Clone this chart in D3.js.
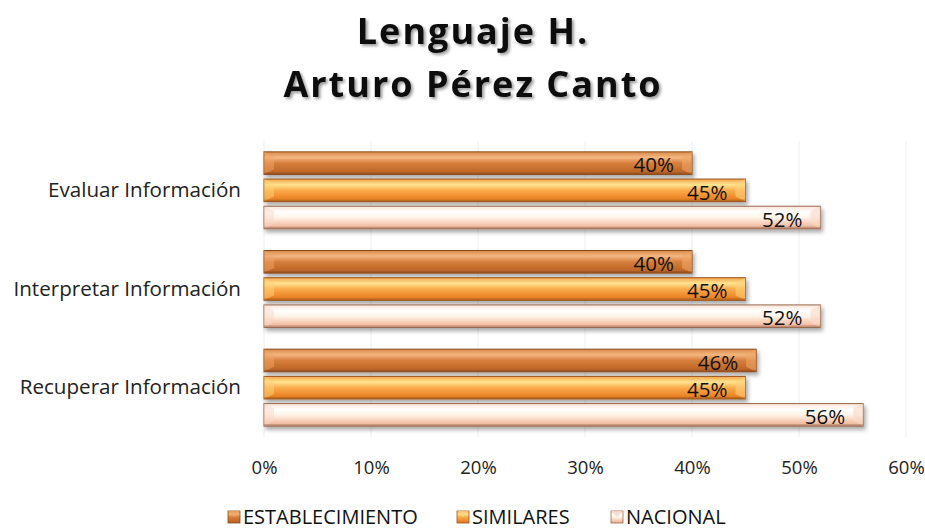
<!DOCTYPE html>
<html>
<head>
<meta charset="utf-8">
<script src="https://cdn.jsdelivr.net/npm/d3@7"></script>
<style>
  body { margin: 0; background: #fff; }
  text { font-family: "Open Sans", sans-serif; }
</style>
</head>
<body>
<div id="chart"></div>
<script>
const categories = ["Evaluar Información", "Interpretar Información", "Recuperar Información"];
const seriesNames = ["ESTABLECIMIENTO", "SIMILARES", "NACIONAL"];
const establecimiento = [0.40, 0.40, 0.46];
const similares = [0.45, 0.45, 0.45];
const nacional = [0.52, 0.52, 0.56];
const xTicks = [0, 0.1, 0.2, 0.3, 0.4, 0.5, 0.6];

const width = 925, height = 529;
const margin = { top: 141, right: 19, bottom: 92, left: 264 };
const font = "'Open Sans', sans-serif";

const svg = d3.select("#chart").append("svg")
  .attr("width", width)
  .attr("height", height);

const defs = svg.append("defs");

// bar styles: gradient stops, outline, bevel colour
const styles = [
  { id: "g0", stops: ["#d88a4a", "#f4b680", "#d67e3c", "#c46c2a", "#b4602a"], stroke: "#8a4a1c", cap: "#f0a666" },
  { id: "g1", stops: ["#f3a24a", "#ffe490", "#f9ac4c", "#ef8a2c", "#de7820"], stroke: "#9a561c", cap: "#ffd27a" },
  { id: "g2", stops: ["#f8e2d4", "#ffffff", "#fff4e8", "#f6c8b0", "#e8ac94"], stroke: "#9a6a50", cap: "#f8d8c8" }
];
styles.forEach(s => {
  const g = defs.append("linearGradient").attr("id", s.id)
    .attr("x1", 0).attr("y1", 0).attr("x2", 0).attr("y2", 1);
  [0, 0.25, 0.5, 0.8, 1].forEach((o, i) => {
    g.append("stop").attr("offset", o).attr("stop-color", s.stops[i]);
  });
});
const shadow = defs.append("filter").attr("id", "shadow")
  .attr("x", "-5%").attr("y", "-20%").attr("width", "115%").attr("height", "160%");
shadow.append("feDropShadow").attr("dx", 2).attr("dy", 3).attr("stdDeviation", 2)
  .attr("flood-color", "#000").attr("flood-opacity", 0.35);
const tshadow = defs.append("filter").attr("id", "tshadow");
tshadow.append("feDropShadow").attr("dx", 2).attr("dy", 2).attr("stdDeviation", 1.5)
  .attr("flood-color", "#000").attr("flood-opacity", 0.4);

const x = d3.scaleLinear().domain([0, 0.6]).range([margin.left, width - margin.right]);
const y0 = d3.scaleBand().domain(categories).range([margin.top, height - margin.bottom]).paddingInner(0.22).paddingOuter(0.11);
const y1 = d3.scaleBand().domain(seriesNames).range([0, y0.bandwidth()]).paddingInner(0.17);

// title
const title = svg.append("text")
  .attr("text-anchor", "middle")
  .attr("font-size", 36)
  .attr("font-weight", "bold")
  .attr("letter-spacing", 2)
  .attr("fill", "#111")
  .attr("filter", "url(#tshadow)");
title.append("tspan").attr("x", 473).attr("y", 44).text("Lenguaje H.");
title.append("tspan").attr("x", 473).attr("y", 97).text("Arturo Pérez Canto");

// gridlines
svg.append("g")
  .selectAll("line")
  .data(xTicks)
  .join("line")
  .attr("x1", d => x(d)).attr("x2", d => x(d))
  .attr("y1", margin.top).attr("y2", height - margin.bottom)
  .attr("stroke", "#eeeeee").attr("stroke-width", 1);

// x axis
const xAxis = svg.append("g")
  .attr("transform", `translate(0,${height - margin.bottom})`)
  .call(d3.axisBottom(x).tickValues(xTicks).tickFormat(d3.format(".0%")).tickSize(0).tickPadding(24));
xAxis.select(".domain").remove();
xAxis.selectAll("text").attr("font-size", 18.5).attr("fill", "#222").style("font-family", font);

// y axis
const yAxis = svg.append("g")
  .attr("transform", `translate(${margin.left},0)`)
  .call(d3.axisLeft(y0).tickSize(0).tickPadding(23));
yAxis.select(".domain").remove();
yAxis.selectAll("text").attr("font-size", 20.6).attr("fill", "#222").style("font-family", font);

const rows = categories.map((c, i) => ({
  cat: c,
  values: [establecimiento[i], similares[i], nacional[i]]
}));

const group = svg.append("g").selectAll("g")
  .data(rows)
  .join("g")
  .attr("transform", d => `translate(0,${y0(d.cat)})`);

const bars = group.selectAll("g.bar")
  .data(d => d.values.map((v, k) => ({ v, k, name: seriesNames[k] })))
  .join("g").attr("class", "bar");

const bh = y1.bandwidth();
const bev = 5;

bars.append("rect")
  .attr("x", x(0))
  .attr("y", d => y1(d.name))
  .attr("width", d => x(d.v) - x(0))
  .attr("height", bh)
  .attr("fill", d => `url(#${styles[d.k].id})`)
  .attr("stroke", d => styles[d.k].stroke)
  .attr("stroke-width", 1)
  .attr("filter", "url(#shadow)");

// bevel end caps
bars.append("path")
  .attr("d", d => {
    const y = y1(d.name), r = x(d.v);
    return `M${r},${y} L${r - bev * 2},${y + bev} L${r - bev * 2},${y + bh - bev} L${r},${y + bh} Z`;
  })
  .attr("fill", d => styles[d.k].cap)
  .attr("opacity", 0.6);
bars.append("path")
  .attr("d", d => {
    const y = y1(d.name), l = x(0);
    return `M${l},${y} L${l + bev * 2},${y + bev} L${l + bev * 2},${y + bh - bev} L${l},${y + bh} Z`;
  })
  .attr("fill", d => styles[d.k].cap)
  .attr("opacity", 0.5);
bars.append("rect")
  .attr("x", x(0)).attr("y", d => y1(d.name) + bh - 2)
  .attr("width", d => x(d.v) - x(0)).attr("height", 2)
  .attr("fill", d => styles[d.k].stroke).attr("opacity", 0.45);

bars.append("text")
  .attr("x", d => x(d.v) - 18)
  .attr("y", d => y1(d.name) + bh - 2)
  .attr("text-anchor", "end")
  .attr("font-size", 20.5)
  .attr("fill", "#111")
  .text(d => d3.format(".0%")(d.v));

// legend
const legendX = [228, 457, 611];
const legend = svg.append("g").selectAll("g")
  .data(seriesNames)
  .join("g")
  .attr("transform", (d, i) => `translate(${legendX[i]},${511})`);
legend.append("rect")
  .attr("width", 12).attr("height", 12)
  .attr("fill", (d, i) => `url(#${styles[i].id})`)
  .attr("stroke", (d, i) => styles[i].stroke).attr("stroke-width", 0.8);
legend.append("path")
  .attr("d", "M0,0 L6,6 L12,0 Z")
  .attr("fill", (d, i) => styles[i].cap).attr("opacity", 0.8);
legend.append("text")
  .attr("x", 15).attr("y", 13)
  .attr("font-size", 20)
  .attr("fill", "#111")
  .text(d => d);
</script>
</body>
</html>
